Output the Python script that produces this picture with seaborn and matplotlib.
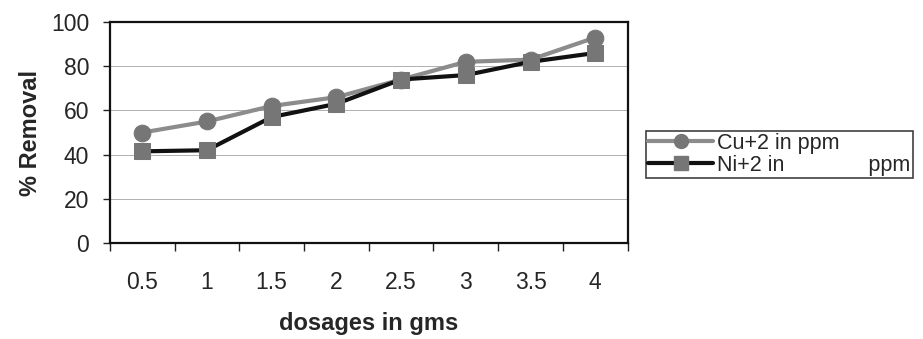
import matplotlib
matplotlib.use("Agg")
import matplotlib.pyplot as plt
import seaborn as sns
import pandas as pd
import numpy as np

dosages = ["0.5", "1", "1.5", "2", "2.5", "3", "3.5", "4"]
cu_removal = [50, 55, 62, 66, 74, 82, 83, 93]
ni_removal = [41.5, 42, 57, 63, 74, 76, 82, 86]
series_names = ["Cu+2 in ppm", "Ni+2 in              ppm"]

df = pd.DataFrame({
    "dosage": dosages * 2,
    "removal": cu_removal + ni_removal,
    "metal": [series_names[0]] * len(dosages) + [series_names[1]] * len(dosages),
})

sns.set_style("white")
plt.rcParams['font.family'] = ['Liberation Sans', 'DejaVu Sans']

fig = plt.figure(figsize=(9.23, 3.39), dpi=100)
ax = fig.add_axes([0.119, 0.283, 0.561, 0.652])

sns.lineplot(data=df, x="dosage", y="removal", hue="metal", style="metal",
             palette=["#8c8c8c", "#111111"], markers=["o", "s"], dashes=False,
             linewidth=3, markersize=12, legend=False, ax=ax, sort=False)
# marker fills are mid grey for both series
for line in ax.get_lines():
    line.set_markerfacecolor("#767676")
    line.set_markeredgecolor("#767676")

ax.set_xlim(-0.5, len(dosages) - 0.5)
ax.set_ylim(0, 100)
ax.set_yticks(np.arange(0, 101, 20))
ax.yaxis.grid(True, color="#b0b0b0", linewidth=0.7)
ax.set_axisbelow(True)

ax.set_xticks(np.arange(-0.5, len(dosages), 1.0))
ax.set_xticklabels([])
ax.set_xticks(np.arange(len(dosages)), minor=True)
ax.set_xticklabels(dosages, minor=True)
ax.tick_params(axis="x", which="major", direction="out", length=6, width=1, color="#222222", bottom=True)
ax.tick_params(axis="x", which="minor", length=0, pad=20, labelsize=16.5)
ax.tick_params(axis="y", direction="out", length=5, width=1, color="#222222", left=True,
               labelsize=16.5, pad=10)

for s in ax.spines.values():
    s.set_color("#111111")
    s.set_linewidth(1.6)

ax.set_xlabel("dosages in gms", fontsize=17, fontweight="bold", labelpad=13)
ax.set_ylabel("% Removal", fontsize=17, fontweight="bold", labelpad=6)

handles = [
    plt.Line2D([], [], color="#8c8c8c", linewidth=3, marker="o", markersize=10,
               markerfacecolor="#767676", markeredgecolor="#767676"),
    plt.Line2D([], [], color="#111111", linewidth=3, marker="s", markersize=10,
               markerfacecolor="#767676", markeredgecolor="#767676"),
]
leg = fig.legend(handles, series_names, loc="center left", bbox_to_anchor=(0.700, 0.545),
                 fontsize=15.5, frameon=True, fancybox=False, handlelength=3.0,
                 handletextpad=0.2, borderpad=0.1, labelspacing=0.05, borderaxespad=0)
leg.get_frame().set_edgecolor("#111111")
leg.get_frame().set_linewidth(1.2)

fig.savefig("out.png", dpi=100)
